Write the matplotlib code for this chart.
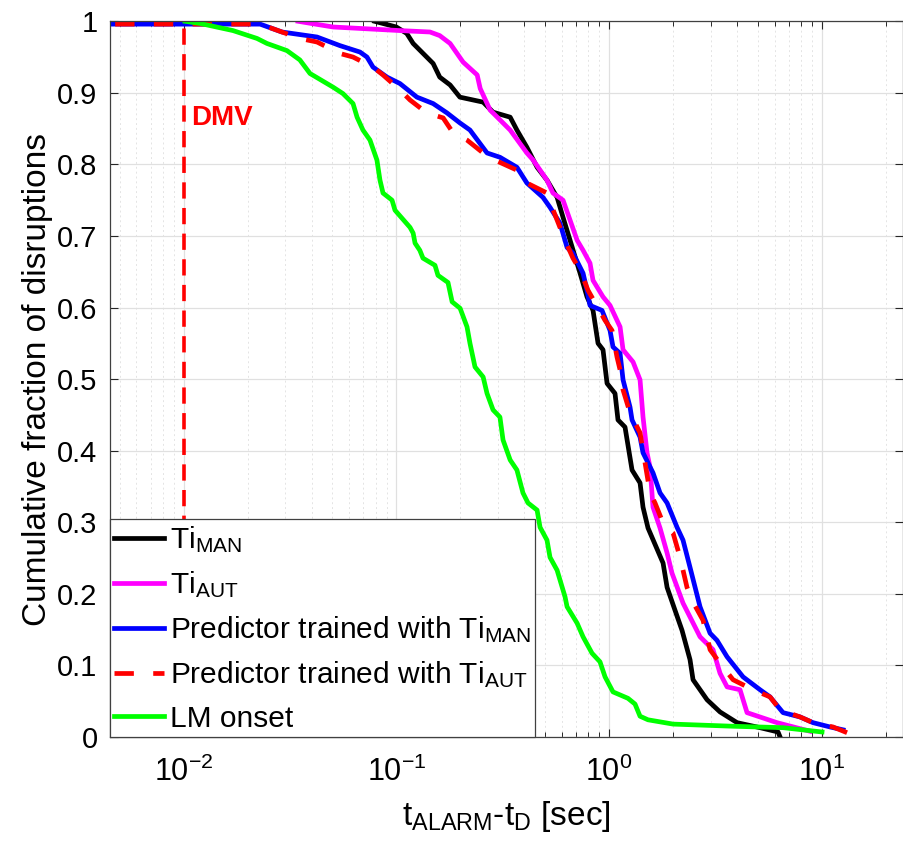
# Cumulative fraction of disruptions vs alarm time (log x axis)

import numpy as np
import matplotlib
matplotlib.use('Agg')
import matplotlib.pyplot as plt
from matplotlib.ticker import LogLocator, NullFormatter

plt.rcParams['font.family'] = ['Liberation Sans', 'DejaVu Sans']
plt.rcParams['mathtext.default'] = 'regular'
plt.rcParams['mathtext.fontset'] = 'custom'
plt.rcParams['mathtext.rm'] = 'Liberation Sans'
plt.rcParams['axes.unicode_minus'] = False

# %%
# Curves (x = t_ALARM - t_D in sec, y = cumulative fraction)
x_ti_man = [0.079, 0.10, 0.112, 0.12, 0.149, 0.16, 0.179, 0.199, 0.256, 0.285,
            0.343, 0.369, 0.411, 0.459, 0.511, 0.57, 0.608, 0.656, 0.731, 0.788,
            0.841, 0.888, 0.937, 0.979, 1.067, 1.102, 1.189, 1.283, 1.399, 1.445,
            1.525, 1.795, 1.875, 2.043, 2.204, 2.403, 2.483, 2.89, 3.325, 4.0,
            5.13, 6.23, 6.37]
y_ti_man = [1.0, 0.992, 0.983, 0.969, 0.941, 0.922, 0.911, 0.894, 0.887, 0.873,
            0.866, 0.848, 0.824, 0.796, 0.778, 0.754, 0.726, 0.694, 0.648, 0.615,
            0.596, 0.55, 0.541, 0.494, 0.48, 0.443, 0.433, 0.373, 0.355, 0.321,
            0.292, 0.243, 0.209, 0.177, 0.149, 0.108, 0.08, 0.052, 0.035, 0.02,
            0.013, 0.007, 0.0]

x_ti_aut = [0.0345, 0.0504, 0.104, 0.144, 0.16, 0.179, 0.206, 0.24, 0.248, 0.276,
            0.343, 0.411, 0.44, 0.511, 0.545, 0.608, 0.708, 0.755, 0.814, 0.841,
            0.937, 1.011, 1.127, 1.164, 1.297, 1.399, 1.445, 1.509, 1.559, 1.61,
            1.737, 1.875, 1.977, 2.228, 2.678, 3.083, 3.325, 3.589, 4.129, 4.455,
            6.163, 8.81]
y_ti_aut = [1.0, 0.992, 0.987, 0.985, 0.98, 0.969, 0.943, 0.925, 0.906, 0.876,
            0.848, 0.816, 0.806, 0.778, 0.76, 0.75, 0.694, 0.68, 0.662, 0.638,
            0.615, 0.603, 0.573, 0.541, 0.524, 0.499, 0.447, 0.397, 0.377, 0.321,
            0.292, 0.257, 0.229, 0.187, 0.14, 0.122, 0.089, 0.07, 0.066, 0.034,
            0.02, 0.008]

x_pred_man = [0.001, 0.0229, 0.029, 0.0424, 0.0543, 0.0675, 0.0728, 0.0777,
              0.0904, 0.104, 0.125, 0.149, 0.173, 0.199, 0.222, 0.267, 0.307,
              0.369, 0.411, 0.489, 0.528, 0.588, 0.635, 0.677, 0.755, 0.788,
              0.814, 0.927, 1.011, 1.044, 1.127, 1.164, 1.255, 1.283, 1.399,
              1.445, 1.61, 1.737, 1.875, 2.088, 2.228, 2.403, 2.678, 2.985,
              3.218, 3.589, 4.266, 5.128, 5.713, 6.577, 7.907, 9.1, 10.94, 12.6]
y_pred_man = [0.996, 0.996, 0.985, 0.978, 0.966, 0.957, 0.95, 0.936, 0.922,
              0.913, 0.894, 0.885, 0.872, 0.858, 0.848, 0.816, 0.81, 0.796,
              0.774, 0.754, 0.74, 0.718, 0.684, 0.676, 0.648, 0.624, 0.603,
              0.596, 0.568, 0.545, 0.536, 0.499, 0.461, 0.443, 0.419, 0.397,
              0.369, 0.341, 0.327, 0.293, 0.275, 0.237, 0.182, 0.145, 0.135,
              0.112, 0.084, 0.066, 0.056, 0.034, 0.028, 0.02, 0.014, 0.01]

x_pred_aut = [0.001, 0.0229, 0.0352, 0.0424, 0.0543, 0.0626, 0.0777, 0.0866,
              0.104, 0.116, 0.139, 0.166, 0.185, 0.215, 0.256, 0.301, 0.369,
              0.411, 0.511, 0.54, 0.588, 0.621, 0.677, 0.731, 0.797, 0.958,
              1.033, 1.09, 1.127, 1.164, 1.255, 1.399, 1.477, 1.559, 1.645,
              1.795, 2.0, 2.157, 2.326, 2.455, 2.767, 2.985, 3.325, 3.828,
              4.753, 5.713, 6.368, 7.907, 9.1, 11.3, 13.15]
y_pred_aut = [0.996, 0.996, 0.976, 0.971, 0.955, 0.95, 0.936, 0.925, 0.904,
              0.89, 0.872, 0.865, 0.844, 0.834, 0.816, 0.804, 0.792, 0.774,
              0.76, 0.74, 0.712, 0.694, 0.669, 0.652, 0.624, 0.582, 0.568,
              0.531, 0.513, 0.485, 0.453, 0.425, 0.383, 0.341, 0.327, 0.299,
              0.285, 0.251, 0.209, 0.191, 0.163, 0.122, 0.103, 0.08, 0.066,
              0.056, 0.038, 0.028, 0.02, 0.014, 0.006]

x_lm = [0.01016, 0.01194, 0.01707, 0.02214, 0.02466, 0.03062, 0.0352, 0.0393,
        0.0504, 0.0561, 0.0626, 0.0654, 0.0697, 0.0752, 0.0811, 0.0838, 0.0866,
        0.0955, 0.0986, 0.116, 0.12, 0.1225, 0.129, 0.1335, 0.152, 0.157, 0.175,
        0.183, 0.1995, 0.215, 0.222, 0.2344, 0.256, 0.267, 0.285, 0.307, 0.3175,
        0.343, 0.369, 0.394, 0.416, 0.459, 0.474, 0.511, 0.528, 0.57, 0.621,
        0.635, 0.708, 0.755, 0.832, 0.907, 0.958, 1.044, 1.228, 1.325, 1.399,
        1.525, 2.0, 3.828, 6.577, 10.03]
y_lm = [1.0, 0.997, 0.987, 0.976, 0.969, 0.959, 0.946, 0.927, 0.908, 0.899,
        0.885, 0.866, 0.848, 0.834, 0.806, 0.778, 0.76, 0.75, 0.736, 0.712,
        0.704, 0.69, 0.68, 0.669, 0.659, 0.645, 0.635, 0.608, 0.599, 0.573,
        0.55, 0.517, 0.503, 0.48, 0.457, 0.447, 0.415, 0.387, 0.373, 0.341,
        0.327, 0.317, 0.293, 0.275, 0.251, 0.233, 0.196, 0.182, 0.159, 0.14,
        0.117, 0.105, 0.084, 0.063, 0.054, 0.046, 0.029, 0.024, 0.018, 0.015,
        0.013, 0.007]

dmv_time = 0.01

y_ticks = [0, 0.1, 0.2, 0.3, 0.4, 0.5, 0.6, 0.7, 0.8, 0.9, 1]
y_tick_labels = ['0', '0.1', '0.2', '0.3', '0.4', '0.5', '0.6', '0.7', '0.8',
                 '0.9', '1']

# %%
fig = plt.figure(figsize=(9.04, 8.44), dpi=100)
ax = fig.add_axes([0.1217, 0.1268, 0.8772, 0.848])

lw = 3.4
ax.plot(x_ti_man, y_ti_man, color='black', lw=lw, label='Ti$_{MAN}$')
ax.plot(x_ti_aut, y_ti_aut, color='#ff00ff', lw=lw, label='Ti$_{AUT}$')
ax.plot(x_pred_man, y_pred_man, color='#0000ff', lw=lw,
        label='Predictor trained with Ti$_{MAN}$')
ax.plot(x_pred_aut, y_pred_aut, color='#ff0000', lw=lw, linestyle=(0, (4.1, 4.1)),
        label='Predictor trained with Ti$_{AUT}$')
ax.plot(x_lm, y_lm, color='#00ff00', lw=lw, label='LM onset')

# DMV marker
ax.axvline(dmv_time, color='#ff0000', lw=2.6, linestyle=(0, (4.5, 2.6)), zorder=1.5)
ax.text(0.0109, 0.865, 'DMV', color='#ff0000', fontsize=20, fontweight='bold',
        va='center', ha='left')

ax.set_xscale('log')
ax.set_xlim(0.00451, 24.1)
ax.set_ylim(0, 1)
ax.set_yticks(y_ticks)
ax.set_yticklabels(y_tick_labels)
ax.xaxis.set_major_locator(LogLocator(base=10, numticks=10))
ax.xaxis.set_minor_locator(LogLocator(base=10, subs=np.arange(2, 10), numticks=20))
ax.xaxis.set_minor_formatter(NullFormatter())

ax.grid(True, which='major', color='#e0e0e0', lw=0.9)
ax.grid(True, which='minor', axis='x', color='#e4e4e4', lw=0.7, linestyle=(0, (2, 3)))
ax.set_axisbelow(True)

ax.tick_params(which='both', direction='in', top=True, right=True,
               labelsize=21, color='#262626')
ax.tick_params(which='major', length=6, width=0.8, pad=9)
ax.tick_params(axis='x', which='major', pad=14, labelsize=22)
ax.tick_params(which='minor', length=3.5, width=0.7)
for s in ax.spines.values():
    s.set_color('#404040')
    s.set_linewidth(0.9)

ax.set_xlabel('t$_{ALARM}$-t$_{D}$ [sec]', fontsize=24, labelpad=8)
ax.set_ylabel('Cumulative fraction of disruptions', fontsize=24, labelpad=3)

leg = ax.legend(loc='lower left', fontsize=21.5, borderaxespad=0, borderpad=0.15,
                handlelength=1.65, handletextpad=0.2, labelspacing=0.48,
                fancybox=False, framealpha=1, edgecolor='#404040')
leg.get_frame().set_linewidth(0.9)
leg.set_zorder(5)

fig.savefig('out.png', dpi=100)
